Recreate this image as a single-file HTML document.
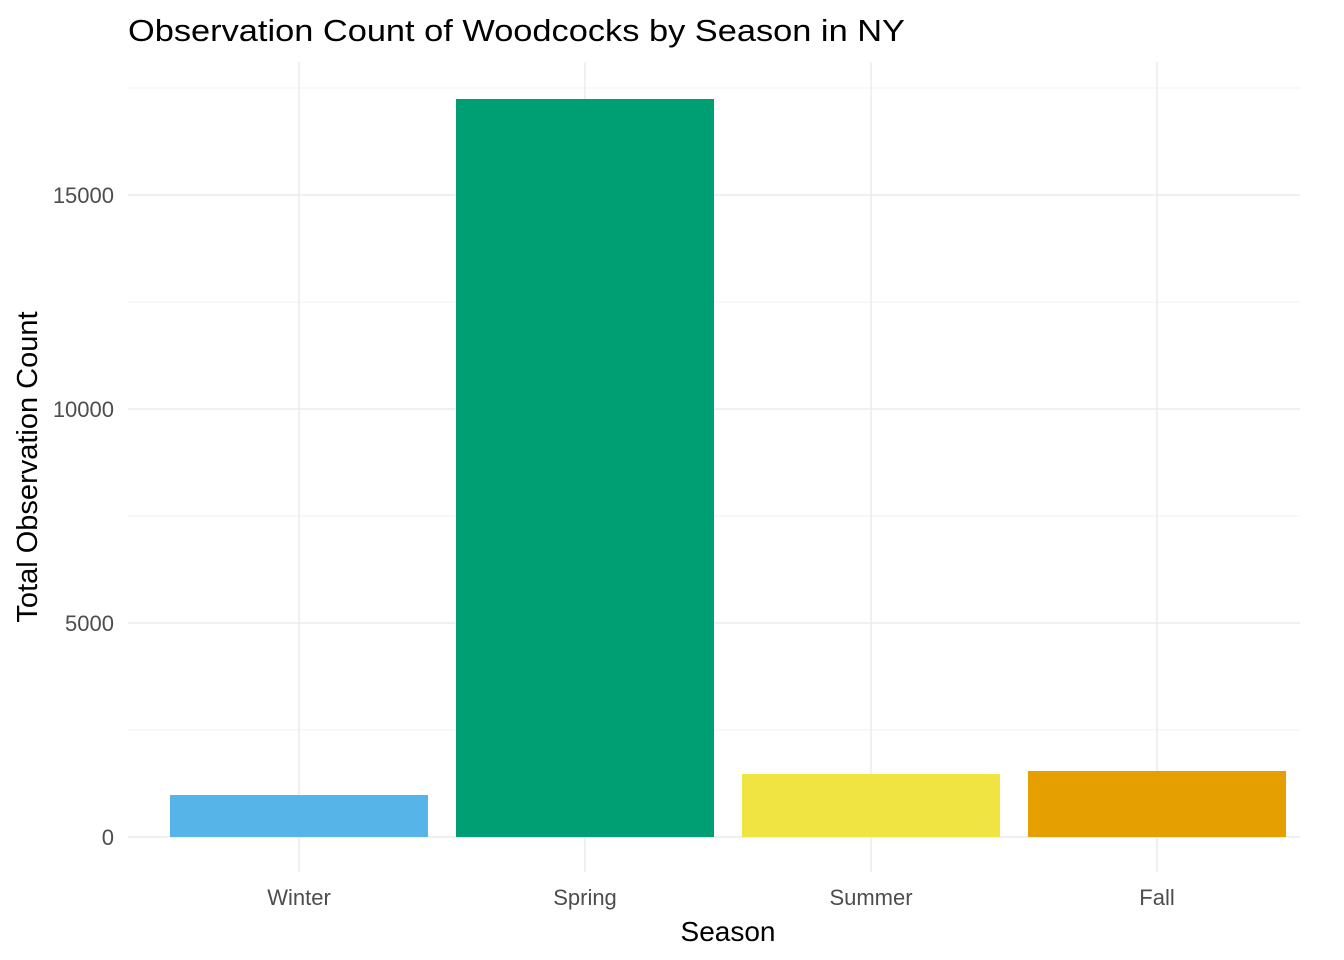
<!DOCTYPE html>
<html><head><meta charset="utf-8"><style>html,body{margin:0;padding:0;background:#fff}svg{display:block;font-family:"Liberation Sans",Arial,sans-serif}</style></head>
<body>
<svg id="chart" width="1344" height="960">
<g id="grid"></g><g id="bars"></g><g id="labels"></g>
<text x="128" y="41" font-size="31" fill="#000" textLength="777" lengthAdjust="spacingAndGlyphs">Observation Count of Woodcocks by Season in NY</text>
<text x="728" y="941" font-size="28" text-anchor="middle" fill="#000">Season</text>
<text transform="translate(37,467) rotate(-90)" font-size="29" text-anchor="middle" fill="#000">Total Observation Count</text>
</svg>
<script>
const categories = ["Winter","Spring","Summer","Fall"];
const counts = [981, 17243, 1472, 1542];
const colors = ["#56B4E9","#009E73","#F0E442","#E69F00"];
const yTicks = [0,5000,10000,15000];
const yMinor = [2500,7500,12500,17500];
const NS="http://www.w3.org/2000/svg";
const y = v => 837 - v*0.0428;
const x = i => 299 + i*286;
const bw = 258;
const grid=document.getElementById('grid'), bars=document.getElementById('bars'), labels=document.getElementById('labels');
function mk(tag, attrs, parent){const e=document.createElementNS(NS,tag);for(const k in attrs)e.setAttribute(k,attrs[k]);parent.appendChild(e);return e;}
yMinor.forEach(v=>{const l=mk('line',{x1:128,x2:1300,y1:y(v),y2:y(v),stroke:'#f0f0f0','stroke-width':1},grid);

});
yTicks.forEach(v=>{const l=mk('line',{x1:128,x2:1300,y1:y(v),y2:y(v),stroke:'#ebebeb','stroke-width':1.5},grid);


const t=mk('text',{x:114,y:y(v)+8,'font-size':22,'text-anchor':'end',fill:'#4d4d4d'},labels);t.textContent=v;

});
categories.forEach((c,i)=>{const l=mk('line',{x1:x(i),x2:x(i),y1:62,y2:872,stroke:'#ebebeb','stroke-width':1.5},grid);


const r=mk('rect',{x:x(i)-bw/2,y:y(counts[i]),width:bw,height:y(0)-y(counts[i]),fill:colors[i]},bars);


const t=mk('text',{x:x(i),y:905,'font-size':22,'text-anchor':'middle',fill:'#4d4d4d'},labels);t.textContent=c;

});
</script>
</body></html>
